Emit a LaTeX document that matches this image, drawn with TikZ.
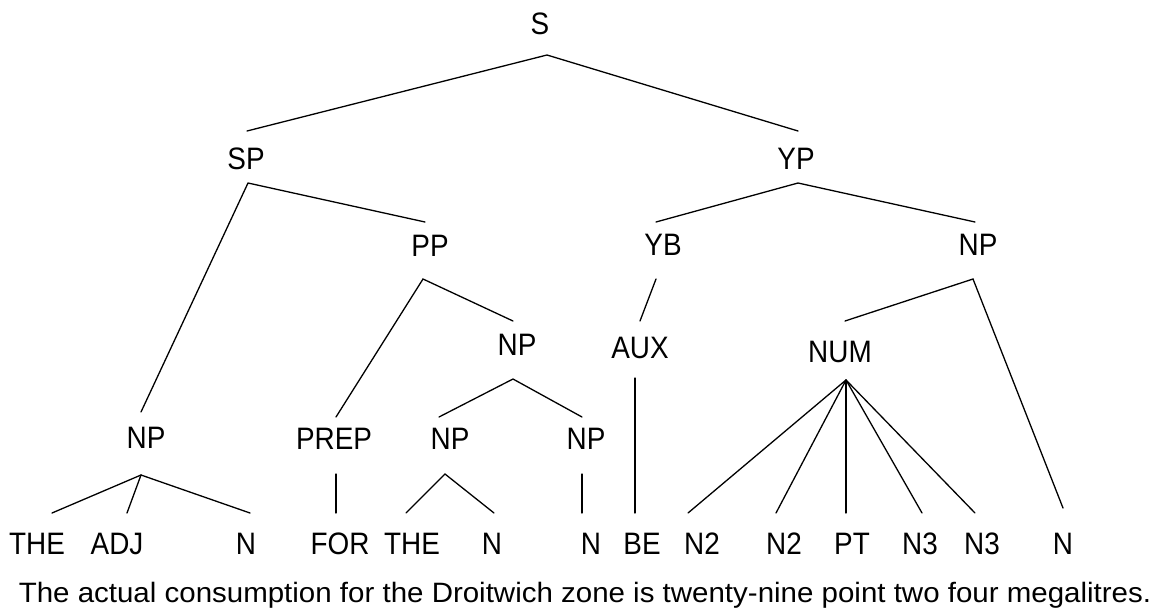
\documentclass[tikz,border=0pt]{standalone}
\usepackage{fontspec}
\setmainfont{Liberation Sans}[FakeStretch=0.9]
\begin{document}
\begin{tikzpicture}[x=1pt,y=-1pt,
  cat/.style={inner sep=0pt,font=\fontsize{31}{31}\selectfont},
  leaf/.style={inner sep=0pt,font=\fontsize{31}{31}\selectfont},
  sentence/.style={inner sep=0pt,font=\fontsize{28}{28}\selectfont},
  branch/.style={line width=1.3pt,line cap=round}]
\useasboundingbox (0,0) rectangle (1164,611);

% category labels
\node[cat] (S)    at (540,24)  {S};
\node[cat] (SP)   at (246,159) {SP};
\node[cat] (YP)   at (796,159) {YP};
\node[cat] (PP)   at (430,246) {PP};
\node[cat] (VB)   at (663,245) {YB};
\node[cat] (NPr)  at (978,245) {NP};
\node[cat] (NPm)  at (517,345) {NP};
\node[cat] (AUX)  at (640,348) {AUX};
\node[cat] (NUM)  at (840,352) {NUM};
\node[cat] (NPl)  at (146,438) {NP};
\node[cat] (PREP) at (334,439) {PREP};
\node[cat] (NPa)  at (450,439) {NP};
\node[cat] (NPb)  at (586,439) {NP};

% terminal labels
\node[leaf] (L1)  at (37,544)   {THE};
\node[leaf] (L2)  at (117,544)  {ADJ};
\node[leaf] (L3)  at (246,544)  {N};
\node[leaf] (L4)  at (340,544)  {FOR};
\node[leaf] (L5)  at (412,544)  {THE};
\node[leaf] (L6)  at (492,544)  {N};
\node[leaf] (L7)  at (591,544)  {N};
\node[leaf] (L8)  at (642,544)  {BE};
\node[leaf] (L9)  at (702,544)  {N2};
\node[leaf] (L10) at (784,544)  {N2};
\node[leaf] (L11) at (852,544)  {PT};
\node[leaf] (L12) at (920,544)  {N3};
\node[leaf] (L13) at (982,544)  {N3};
\node[leaf] (L14) at (1063,544) {N};

% sentence
\node[sentence,anchor=base] (sent) at (585,602)
  {\scalebox{1.17}[1]{The actual consumption for the Droitwich zone is twenty-nine point two four megalitres.}};

% branch attachment points (below parent / above child)
\coordinate (S-lo)   at (547,55);
\coordinate (SP-hi)  at (247,131);
\coordinate (YP-hi)  at (798,131);
\coordinate (SP-lo)  at (248,183);
\coordinate (YP-lo)  at (798,183);
\coordinate (PP-hi)  at (425,222);
\coordinate (VB-hi)  at (656,222);
\coordinate (NPr-hi) at (975,222);
\coordinate (PP-lo)  at (423,279);
\coordinate (VB-lo)  at (656,279);
\coordinate (NPr-lo) at (973,279);
\coordinate (NPm-hi) at (513,321);
\coordinate (AUX-hi) at (640,321);
\coordinate (NUM-hi) at (845,321);
\coordinate (NPm-lo) at (513,379);
\coordinate (AUX-lo) at (635,378);
\coordinate (NUM-lo) at (846,380);
\coordinate (NPl-hi) at (141,412);
\coordinate (PREP-hi) at (336,417);
\coordinate (NPa-hi) at (439,417);
\coordinate (NPb-hi) at (582,417);
\coordinate (NPl-lo) at (141,475);
\coordinate (PREP-lo) at (336,474);
\coordinate (NPa-lo) at (445,474);
\coordinate (NPb-lo) at (582,474);
\coordinate (L1-hi)  at (52,513);
\coordinate (L2-hi)  at (127,513);
\coordinate (L3-hi)  at (250,513);
\coordinate (L4-hi)  at (336,513);
\coordinate (L5-hi)  at (406,513);
\coordinate (L6-hi)  at (494,513);
\coordinate (L7-hi)  at (582,513);
\coordinate (L8-hi)  at (635,513);
\coordinate (L9-hi)  at (688,513);
\coordinate (L10-hi) at (776,513);
\coordinate (L11-hi) at (846,513);
\coordinate (L12-hi) at (922,513);
\coordinate (L13-hi) at (975,513);
\coordinate (L14-hi) at (1063,508);

% branches
\draw[branch] (SP-hi) -- (S-lo) -- (YP-hi);
\draw[branch] (NPl-hi) -- (SP-lo) -- (PP-hi);
\draw[branch] (VB-hi) -- (YP-lo) -- (NPr-hi);
\draw[branch] (PREP-hi) -- (PP-lo) -- (NPm-hi);
\draw[branch] (VB-lo) -- (AUX-hi);
\draw[branch] (NUM-hi) -- (NPr-lo) -- (L14-hi);
\draw[branch] (NPa-hi) -- (NPm-lo) -- (NPb-hi);
\draw[branch] (AUX-lo) -- (L8-hi);
\draw[branch] (NPl-lo) -- (L1-hi);
\draw[branch] (NPl-lo) -- (L2-hi);
\draw[branch] (NPl-lo) -- (L3-hi);
\draw[branch] (PREP-lo) -- (L4-hi);
\draw[branch] (L5-hi) -- (NPa-lo) -- (L6-hi);
\draw[branch] (NPb-lo) -- (L7-hi);
\foreach \k in {9,...,13} \draw[branch] (NUM-lo) -- (L\k-hi);
\end{tikzpicture}
\end{document}
